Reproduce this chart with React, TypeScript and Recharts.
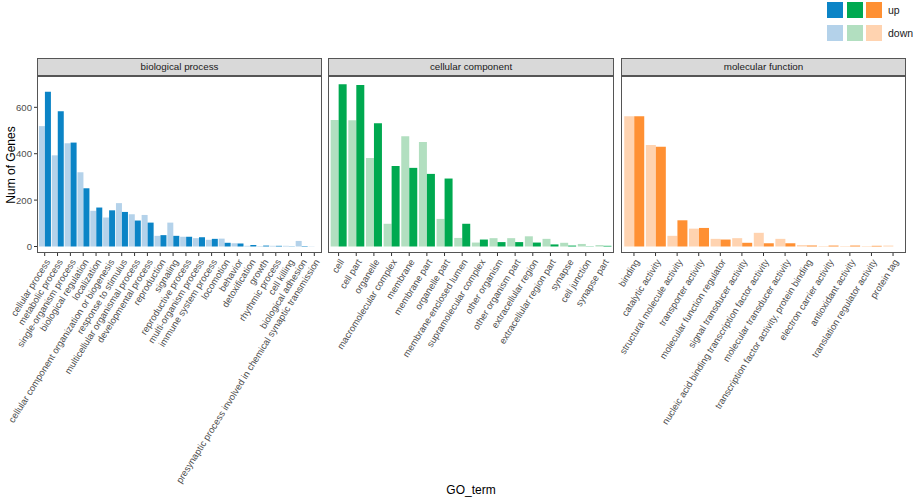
import React from "react";
import { BarChart, Bar, XAxis, YAxis } from "recharts";

// biological process
const bpTerms = [
  "cellular process",
  "metabolic process",
  "single-organism process",
  "biological regulation",
  "localization",
  "cellular component organization or biogenesis",
  "response to stimulus",
  "multicellular organismal process",
  "developmental process",
  "reproduction",
  "signaling",
  "reproductive process",
  "multi-organism process",
  "immune system process",
  "locomotion",
  "behavior",
  "detoxification",
  "growth",
  "rhythmic process",
  "cell killing",
  "biological adhesion",
  "presynaptic process involved in chemical synaptic transmission",
];
const bpUp = [667, 583, 448, 251, 168, 156, 149, 112, 103, 49, 46, 42, 40, 33, 16, 13, 6, 4, 3, 1, 2, 0];
const bpDown = [519, 393, 445, 320, 154, 125, 187, 139, 136, 46, 103, 42, 36, 29, 34, 14, 3, 2, 3, 3, 24, 1];

// cellular component
const ccTerms = [
  "cell",
  "cell part",
  "organelle",
  "macromolecular complex",
  "membrane",
  "membrane part",
  "organelle part",
  "membrane-enclosed lumen",
  "supramolecular complex",
  "other organism",
  "other organism part",
  "extracellular region",
  "extracellular region part",
  "synapse",
  "cell junction",
  "synapse part",
];
const ccUp = [699, 696, 531, 347, 339, 313, 293, 98, 30, 19, 19, 17, 9, 4, 1, 3];
const ccDown = [545, 544, 382, 98, 475, 451, 119, 37, 17, 36, 36, 44, 33, 16, 11, 6];

// molecular function
const mfTerms = [
  "binding",
  "catalytic activity",
  "structural molecule activity",
  "transporter activity",
  "molecular function regulator",
  "signal transducer activity",
  "nucleic acid binding transcription factor activity",
  "molecular transducer activity",
  "transcription factor activity, protein binding",
  "electron carrier activity",
  "antioxidant activity",
  "translation regulator activity",
  "protein tag",
];
const mfUp = [561, 430, 113, 80, 30, 16, 14, 14, 4, 4, 4, 3, 0];
const mfDown = [561, 438, 46, 77, 33, 36, 59, 33, 6, 2, 2, 2, 4];

const yTicks = [0, 200, 400, 600];
const yDomain: [number, number] = [-28, 735];

const FONT = "'Liberation Sans', Arial, sans-serif";
const PANEL_TOP = 76;
const PANEL_H = 177;
const STRIP_H = 18;
const AXIS_H = 250;

const facets = [
  { title: "biological process", terms: bpTerms, up: bpUp, down: bpDown, upColor: "#0B84C6", downColor: "#B4D2EA", left: 37, width: 285 },
  { title: "cellular component", terms: ccTerms, up: ccUp, down: ccDown, upColor: "#00A950", downColor: "#B2DFC0", left: 328, width: 286 },
  { title: "molecular function", terms: mfTerms, up: mfUp, down: mfDown, upColor: "#FF9033", downColor: "#FFD3B0", left: 621, width: 285 },
];

function AngledTick(props: any) {
  const { x, y, payload } = props;
  return (
    <g transform={`translate(${x + 3},${y + 2})`}>
      <text
        transform="rotate(-58)"
        textAnchor="end"
        dy="0.35em"
        fontSize={9.4}
        fill="#4D4D4D"
        fontFamily={FONT}
      >
        {payload.value}
      </text>
    </g>
  );
}

function Facet({ facet, index }: { facet: (typeof facets)[number]; index: number }) {
  const rows = facet.terms.map((term, i) => ({ term, up: facet.up[i], down: facet.down[i] }));
  const extraLeft = index === 0 ? 37 : 70;
  const yAxisW = index === 0 ? 30 : 0;
  const pad = (0.1 * facet.width) / (facet.terms.length + 0.2);
  return (
    <>
      <div
        style={{
          position: "absolute",
          left: facet.left,
          top: PANEL_TOP - STRIP_H,
          width: facet.width,
          height: STRIP_H,
          boxSizing: "border-box",
          background: "#D9D9D9",
          border: "1px solid #555",
          fontSize: 9.8,
          color: "#1A1A1A",
          textAlign: "center",
          lineHeight: `${STRIP_H - 2}px`,
        }}
      >
        {facet.title}
      </div>
      <div style={{ position: "absolute", left: facet.left - extraLeft, top: PANEL_TOP }}>
        <BarChart
          width={facet.width + extraLeft + 5}
          height={PANEL_H + AXIS_H}
          data={rows}
          margin={{ top: 0, right: 5, bottom: 0, left: extraLeft - yAxisW }}
          barCategoryGap="5%"
          barGap={0}
        >
          <XAxis
            dataKey="term"
            interval={0}
            height={AXIS_H}
            padding={{ left: pad, right: pad }}
            axisLine={false}
            tickLine={{ stroke: "#333", strokeWidth: 1 }}
            tickSize={3}
            tickMargin={2}
            tick={<AngledTick />}
          />
          <YAxis
            hide={index !== 0}
            width={30}
            domain={yDomain}
            allowDataOverflow
            ticks={yTicks}
            axisLine={false}
            tickLine={{ stroke: "#333", strokeWidth: 1 }}
            tickSize={3}
            tickMargin={2}
            tick={{ fontSize: 9.6, fill: "#4D4D4D", fontFamily: FONT }}
          />
          <Bar dataKey="down" fill={facet.downColor} isAnimationActive={false} />
          <Bar dataKey="up" fill={facet.upColor} isAnimationActive={false} />
        </BarChart>
      </div>
      <div
        style={{
          position: "absolute",
          left: facet.left,
          top: PANEL_TOP,
          width: facet.width,
          height: PANEL_H,
          boxSizing: "border-box",
          border: "1px solid #555",
          pointerEvents: "none",
        }}
      />
    </>
  );
}

export default function App() {
  const swatch = (color: string, left: number, top: number) => (
    <div style={{ position: "absolute", left, top, width: 16, height: 16, background: color }} />
  );
  const legendText = { position: "absolute" as const, left: 888, fontSize: 10.5, color: "#1A1A1A", lineHeight: "14px", whiteSpace: "nowrap" as const };
  return (
    <div
      style={{
        position: "absolute",
        left: 0,
        top: 0,
        width: 913,
        height: 502,
        background: "#fff",
        fontFamily: FONT,
        overflow: "hidden",
      }}
    >
      {facets.map((f, i) => (
        <Facet key={f.title} facet={f} index={i} />
      ))}

      {/* legend */}
      {swatch(facets[0].upColor, 827, 2)}
      {swatch(facets[1].upColor, 847, 2)}
      {swatch(facets[2].upColor, 866, 2)}
      {swatch(facets[0].downColor, 827, 25)}
      {swatch(facets[1].downColor, 847, 25)}
      {swatch(facets[2].downColor, 866, 25)}
      <div style={{ ...legendText, top: 3 }}>up</div>
      <div style={{ ...legendText, top: 26 }}>down</div>

      {/* axis titles */}
      <div
        style={{
          position: "absolute",
          left: 11,
          top: PANEL_TOP + PANEL_H / 2,
          transform: "translate(-50%, -50%) rotate(-90deg)",
          fontSize: 12,
          color: "#000",
          whiteSpace: "nowrap",
        }}
      >
        Num of Genes
      </div>
      <div
        style={{
          position: "absolute",
          left: 471,
          top: 490,
          transform: "translate(-50%, -50%)",
          fontSize: 12,
          color: "#000",
          whiteSpace: "nowrap",
        }}
      >
        GO_term
      </div>
    </div>
  );
}
